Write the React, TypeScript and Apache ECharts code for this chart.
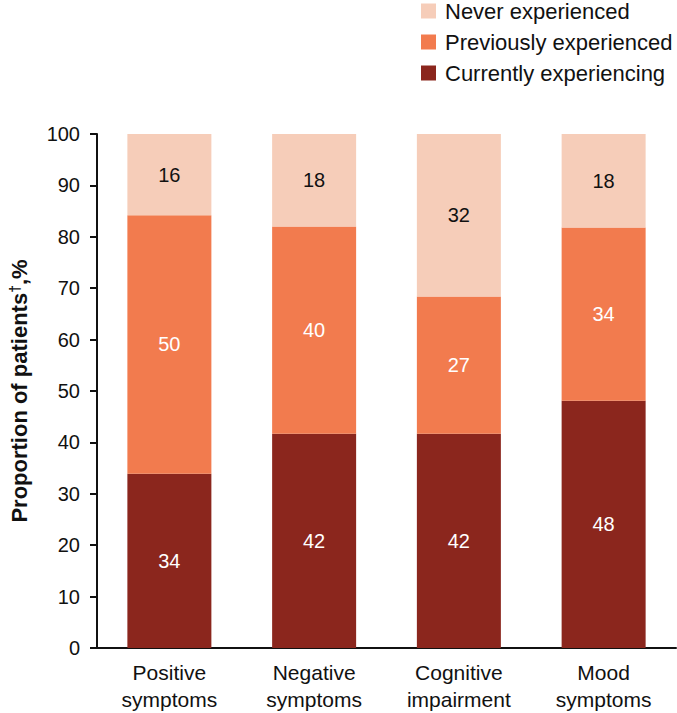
import React, { useEffect, useRef } from "react";
import * as echarts from "echarts";

const categories = ["Positive\nsymptoms", "Negative\nsymptoms", "Cognitive\nimpairment", "Mood\nsymptoms"];
const currentlyExperiencing = [33.9, 41.7, 41.7, 48.1];
const previouslyExperienced = [50.3, 40.3, 26.7, 33.7];
const neverExperienced = [15.8, 18.0, 31.6, 18.2];
const yTicks = { min: 0, max: 100, interval: 10 };

const FONT = "'Liberation Sans', Arial, sans-serif";

export default function App() {
  const ref = useRef<HTMLDivElement>(null);
  useEffect(() => {
    if (!ref.current) return;
    document.body.style.margin = "0";
    document.body.style.overflow = "hidden";
    const chart = echarts.init(ref.current, undefined, { renderer: "svg" });
    const labelBase = {
      show: true,
      position: "inside",
      fontSize: 20,
      fontFamily: FONT,
      formatter: (p: any) => String(Math.round(p.value)),
    };
    chart.setOption({
      animation: false,
      textStyle: { fontFamily: FONT },
      legend: {
        orient: "vertical",
        left: 421,
        top: 0,
        padding: 0,
        itemWidth: 15,
        itemHeight: 15,
        itemGap: 9,
        icon: "rect",
        data: ["Never experienced", "Previously experienced", "Currently experiencing"],
        textStyle: { fontSize: 22, color: "#111", fontFamily: FONT, padding: [0, 0, 0, 4] },
      },
      grid: { left: 92, right: 1, top: 134, bottom: 64, containLabel: false },
      xAxis: {
        type: "category",
        data: categories,
        axisLine: { lineStyle: { color: "#111", width: 2 } },
        axisTick: { show: false },
        axisLabel: { color: "#111", fontSize: 21, lineHeight: 27, margin: 11, fontFamily: FONT, interval: 0 },
      },
      yAxis: {
        type: "value",
        min: yTicks.min,
        max: yTicks.max,
        interval: yTicks.interval,
        splitLine: { show: false },
        axisLine: { show: true, lineStyle: { color: "#111", width: 2 } },
        axisTick: { show: true, length: 7, lineStyle: { color: "#111", width: 2 } },
        axisLabel: { color: "#111", fontSize: 20, margin: 17, fontFamily: FONT },
        name: "{a|Proportion of patients}{s|†}{a|,%}",
        nameLocation: "middle",
        nameGap: 67,
        nameRotate: 90,
        nameTextStyle: {
          rich: {
            a: { fontSize: 22, fontWeight: "bold", color: "#111", fontFamily: FONT },
            s: { fontSize: 14, fontWeight: "bold", color: "#111", fontFamily: FONT, verticalAlign: "top", padding: [0, 0, 7, 0] },
          },
        },
      },
      series: [
        {
          name: "Currently experiencing",
          type: "bar",
          stack: "total",
          barWidth: 84,
          data: currentlyExperiencing,
          itemStyle: { color: "#8B261D" },
          label: { ...labelBase, color: "#fff" },
        },
        {
          name: "Previously experienced",
          type: "bar",
          stack: "total",
          barWidth: 84,
          data: previouslyExperienced,
          itemStyle: { color: "#F27B4E" },
          label: { ...labelBase, color: "#fff" },
        },
        {
          name: "Never experienced",
          type: "bar",
          stack: "total",
          barWidth: 84,
          data: neverExperienced,
          itemStyle: { color: "#F6CDB9" },
          label: { ...labelBase, color: "#111" },
        },
      ],
    });
    return () => chart.dispose();
  }, []);
  return <div ref={ref} style={{ position: "absolute", left: 0, top: 0, width: 677, height: 713 }} />;
}
